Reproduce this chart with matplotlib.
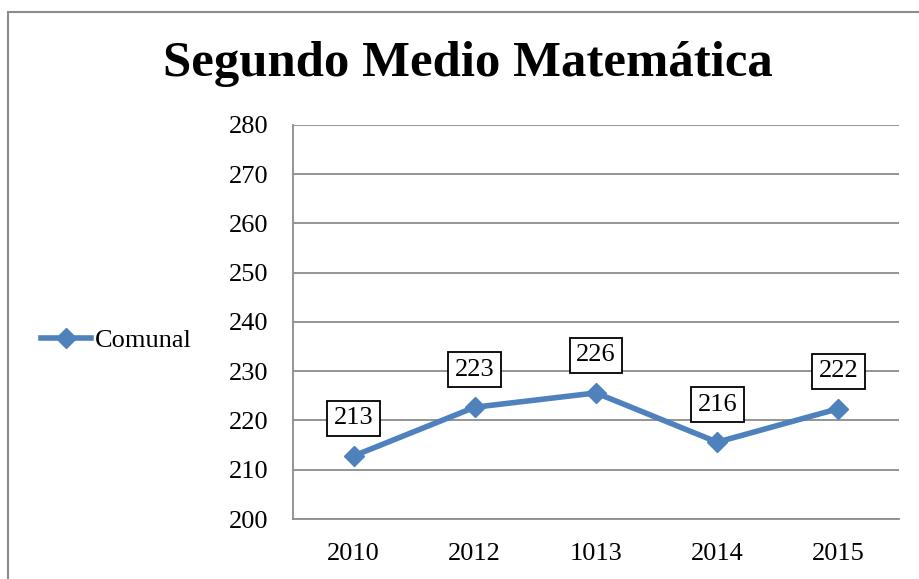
import matplotlib
matplotlib.use("Agg")
import matplotlib.pyplot as plt
from matplotlib.patches import Rectangle

# datos
anios = ["2010", "2012", "1013", "2014", "2015"]
comunal = [212.8, 222.7, 225.6, 215.6, 222.4]
etiquetas = ["213", "223", "226", "216", "222"]
y_ticks = [200, 210, 220, 230, 240, 250, 260, 270, 280]

azul = "#4F81BD"
plt.rcParams["font.family"] = ["Liberation Serif", "DejaVu Serif"]

fig = plt.figure(figsize=(9.19, 5.79), dpi=100)
# marco gris del gráfico (recortado a la derecha y abajo)
fig.patches.append(Rectangle((8 / 919, -0.05), 1.1, 1 - 12 / 579 + 0.05, transform=fig.transFigure,
                             fill=False, edgecolor="#8c8c8c", lw=1.5, clip_on=False))

ax = fig.add_axes([293 / 919, 1 - 519 / 579, 606 / 919, 394 / 579])
x = list(range(len(anios)))
ax.plot(x, comunal, color=azul, lw=4, marker="D", ms=10.5, label="Comunal")
for xi, v, t in zip(x, comunal, etiquetas):
    ax.annotate(t, (xi, v), xytext=(0, 27), textcoords="offset points", ha="center", va="center",
                fontsize=19, bbox=dict(boxstyle="square,pad=0.25", fc="white", ec="black", lw=1.3))

ax.set_xlim(-0.5, 4.5)
ax.set_ylim(200, 280)
ax.set_yticks(y_ticks)
ax.set_xticks(x, anios)
ax.tick_params(axis="both", labelsize=19, length=0)
ax.tick_params(axis="x", pad=17)
ax.tick_params(axis="y", pad=18)
ax.grid(axis="y", color="#8c8c8c", lw=1.3)
for s in ("top", "right"):
    ax.spines[s].set_visible(False)
for s in ("left", "bottom"):
    ax.spines[s].set_color("#8c8c8c")
    ax.spines[s].set_linewidth(1.3)

fig.text(468 / 919, 1 - 64 / 579, "Segundo Medio Matemática", ha="center", va="center",
         fontsize=36.5, fontweight="bold")
fig.legend(loc="center left", bbox_to_anchor=(30 / 919, 1 - 340 / 579), frameon=False,
           fontsize=19, handlelength=1.9, handletextpad=0.15, borderaxespad=0)

fig.savefig("out.png", dpi=100)
